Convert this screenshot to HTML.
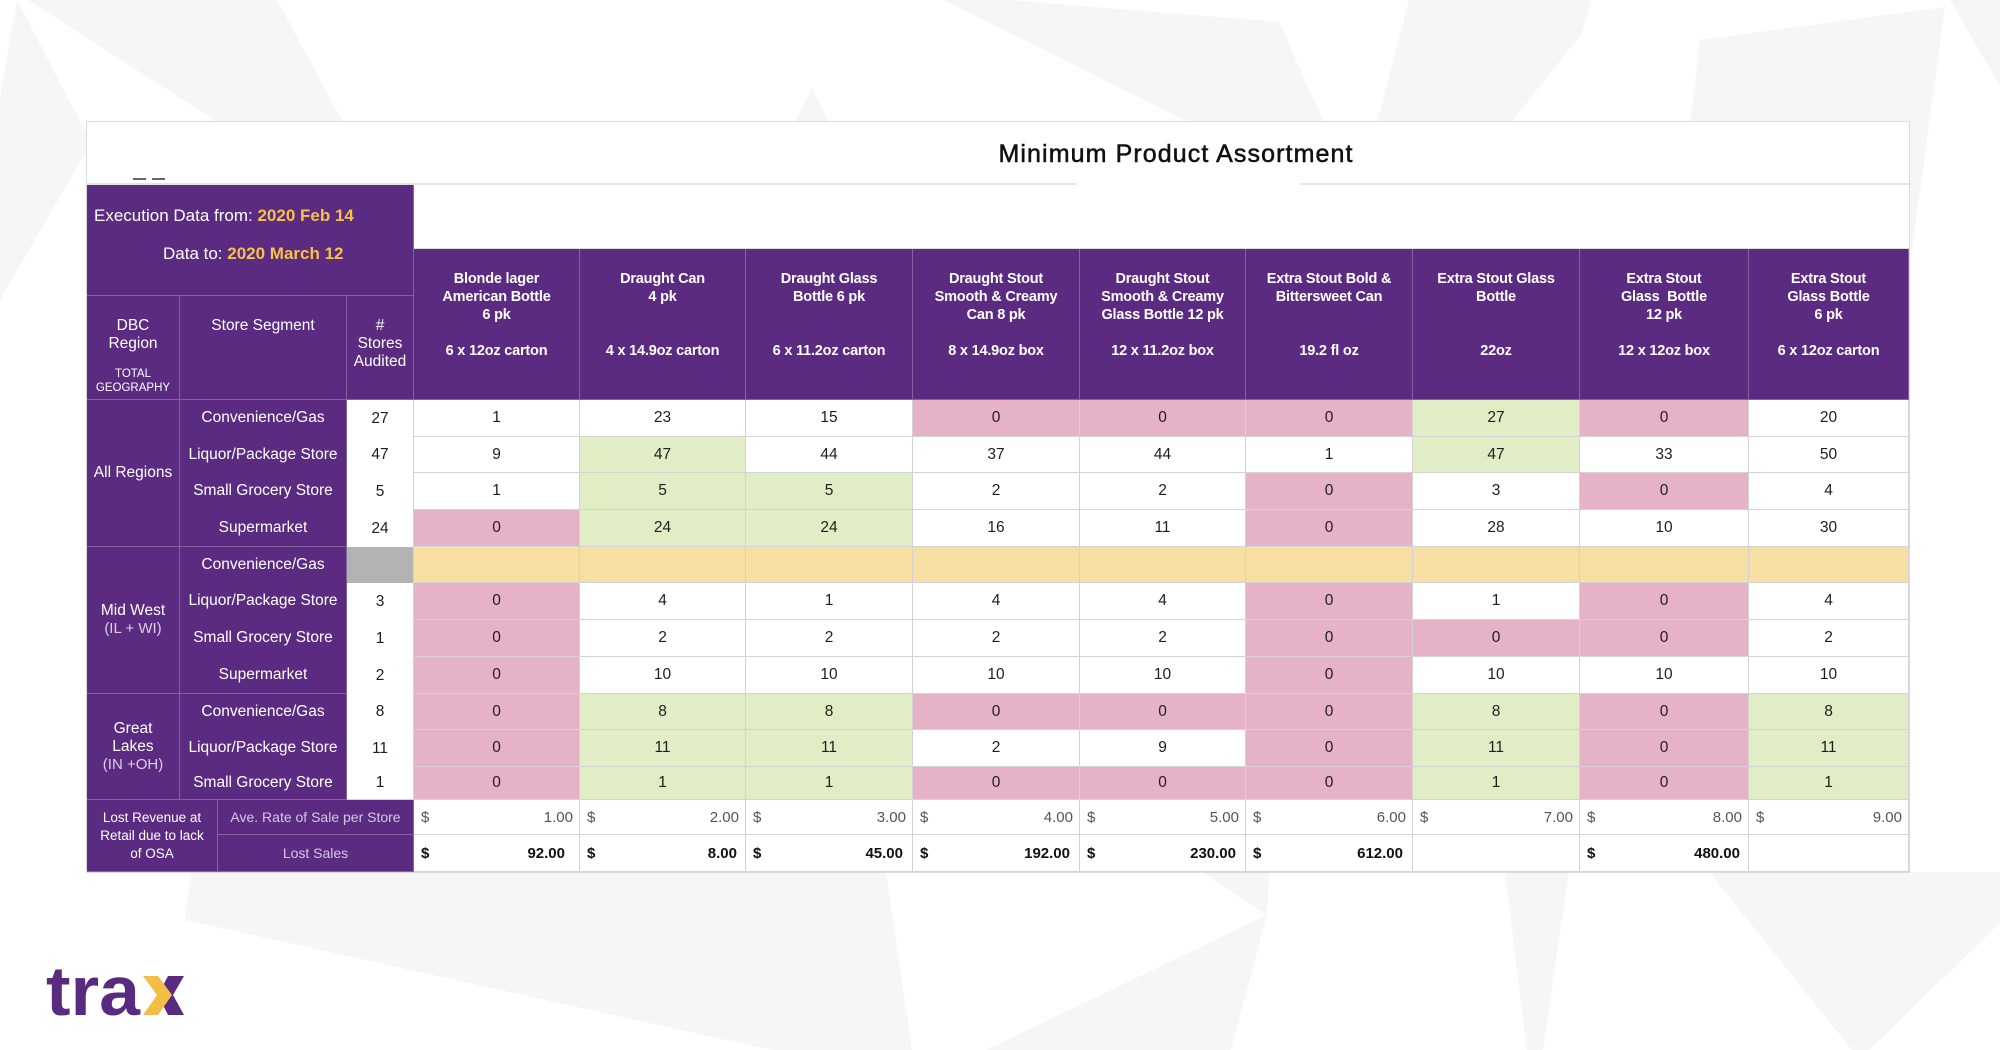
<!DOCTYPE html>
<html>
<head>
<meta charset="utf-8">
<style>
html,body{margin:0;padding:0;}
body{width:2000px;height:1050px;position:relative;overflow:hidden;background:#fff;font-family:"Liberation Sans",sans-serif;}
#bg{position:absolute;left:0;top:0;}
#tbl{position:absolute;left:87px;top:122px;width:1822px;height:750px;display:grid;
grid-template-columns:93px 38px 129px 67px 166px 166px 167px 167px 166px 167px 167px 169px 160px;
grid-template-rows:63px 64px 47px 104px 37px 36px 37px 37px 36px 37px 37px 37px 36px 37px 33px 35px 37px;
box-shadow:0 0 0 1px #dcdcdc, 0 0 3px rgba(0,0,0,0.06);background:#fff;}
#tbl>div{box-sizing:border-box;}
.p{background:#5a2b81;color:#fff;border-right:1px solid #8264a2;border-bottom:1px solid #8264a2;}
.c{background:#fff;border-right:1px solid #d3d3d3;border-bottom:1px solid #d3d3d3;display:flex;align-items:center;justify-content:center;font-size:15.5px;color:#1e1e1e;}
.k{background:#e6b2c8;}
.g{background:#e1edc5;}
.y{background:#f7dea2;}
.gr{background:#b3b3b3;}
.st{border-bottom:none;}
.seg{grid-column:span 2;display:flex;align-items:center;justify-content:center;font-size:15.5px;border-bottom-color:#5a2b81;}
.seg.last{border-bottom-color:#8264a2;}
.reg{grid-column:1;display:flex;align-items:center;justify-content:center;text-align:center;font-size:15.5px;line-height:18px;}
.reg .l{color:#dcd0e8;font-size:15px;}
.h{grid-row:span 2;position:relative;font-weight:bold;font-size:14.5px;letter-spacing:-0.2px;}
.h .t{position:absolute;top:21px;left:0;right:0;text-align:center;line-height:18px;}
.h .s{position:absolute;top:93px;left:0;right:0;text-align:center;line-height:18px;}
.sh{position:relative;font-size:15.5px;}
.sh .t{position:absolute;top:21px;left:0;right:0;text-align:center;line-height:18px;}
.d{display:flex;align-items:center;justify-content:space-between;padding:0 9px 0 7px;font-size:15px;}
.d.a{color:#555;padding-right:6px;}
.d.b{font-weight:bold;color:#111;}
</style>
</head>
<body>
<svg id="bg" width="2000" height="1050" viewBox="0 0 2000 1050">
<g fill="#f6f6f6">
<polygon points="17,0 0,97 0,300 87,150 87,135"/>
<polygon points="28,0 277,0 347,130 230,130"/>
<polygon points="812,87 791,130 832,130"/>
<polygon points="944,0 1008,0 1279,22 1327,130 1205,130"/>
<polygon points="1409,0 1591,0 1582,33 1505,130 1375,130"/>
<polygon points="1700,40 1945,7 1912,250 1690,122"/>
<polygon points="1950,0 2000,0 2000,86"/>
<polygon points="191,872 886,872 912,1050 772,1050 185,920"/>
<polygon points="1202,872 1269,872 1267,915"/>
<polygon points="1267,915 986,1050 1231,1050"/>
<polygon points="1505,872 1569,872 1543,1050 1527,1050"/>
<polygon points="1709,872 2000,872 2000,923 1869,1050 1852,1050"/>
</g>
<text x="46" y="1015" font-family="Liberation Sans, sans-serif" font-weight="bold" font-size="70" fill="#582a80" textLength="94" lengthAdjust="spacingAndGlyphs">tra</text>
<polygon points="168,976 184,976 173,995 184,1015 168,1015 158,995" fill="#582a80"/>
<polygon points="143,976 158,976 172,995 158,1015 143,1015 157,995" fill="#f3be45"/>
</svg>

<div id="tbl">
  <div style="grid-row:1;grid-column:1/-1;position:relative;background:#fff;">
    <div style="position:absolute;left:889px;width:400px;top:17px;line-height:30px;text-align:center;font-size:25px;letter-spacing:1.1px;color:#111;-webkit-text-stroke:0.55px #111;">Minimum Product Assortment</div>
    <div style="position:absolute;left:0;top:61px;width:989px;height:2px;background:#e3e3e3;"></div>
    <div style="position:absolute;left:1214px;top:61px;width:608px;height:2px;background:#e3e3e3;"></div>
    <div style="position:absolute;left:46px;top:56px;width:13px;height:1.5px;background:#666;"></div>
    <div style="position:absolute;left:65px;top:56px;width:13px;height:1.5px;background:#666;"></div>
  </div>
  <div class="p" style="grid-row:2/4;grid-column:1/5;position:relative;font-size:17px;">
    <div style="position:absolute;left:7px;top:21px;line-height:20px;white-space:nowrap;">Execution Data from: <b style="color:#f6c244;">2020 Feb 14</b></div>
    <div style="position:absolute;left:76px;top:59px;line-height:20px;white-space:nowrap;">Data to: <b style="color:#f6c244;">2020 March 12</b></div>
  </div>
  <div style="grid-row:2;grid-column:5/-1;background:#fff;border-bottom:1px solid #dcdcdc;"></div>

  <div class="p reg" style="grid-row:5/9;">All Regions</div>
  <div class="p reg" style="grid-row:9/13;"><div>Mid West<br><span class="l">(IL + WI)</span></div></div>
  <div class="p reg" style="grid-row:13/16;"><div>Great<br>Lakes<br><span class="l">(IN +OH)</span></div></div>
  <div class="p reg" style="grid-row:16/18;grid-column:1/3;font-size:13.5px;">Lost Revenue at<br>Retail due to lack<br>of OSA</div>

  <div class="p h"><div class="t">Blonde lager<br>American Bottle<br>6 pk</div><div class="s">6 x 12oz carton</div></div>
  <div class="p h"><div class="t">Draught Can<br>4 pk</div><div class="s">4 x 14.9oz carton</div></div>
  <div class="p h"><div class="t">Draught Glass<br>Bottle 6 pk</div><div class="s">6 x 11.2oz carton</div></div>
  <div class="p h"><div class="t">Draught Stout<br>Smooth &amp; Creamy<br>Can 8 pk</div><div class="s">8 x 14.9oz box</div></div>
  <div class="p h"><div class="t">Draught Stout<br>Smooth &amp; Creamy<br>Glass Bottle 12 pk</div><div class="s">12 x 11.2oz box</div></div>
  <div class="p h"><div class="t">Extra Stout Bold &amp;<br>Bittersweet Can</div><div class="s">19.2 fl oz</div></div>
  <div class="p h"><div class="t">Extra Stout Glass<br>Bottle</div><div class="s">22oz</div></div>
  <div class="p h"><div class="t">Extra Stout<br>Glass&nbsp; Bottle<br>12 pk</div><div class="s">12 x 12oz box</div></div>
  <div class="p h"><div class="t">Extra Stout<br>Glass Bottle<br>6 pk</div><div class="s">6 x 12oz carton</div></div>

  <div class="p sh"><div class="t">DBC<br>Region</div><div style="position:absolute;top:71px;left:0;right:0;text-align:center;font-size:11.5px;line-height:14px;">TOTAL<br>GEOGRAPHY</div></div>
  <div class="p sh" style="grid-column:span 2;"><div class="t">Store Segment</div></div>
  <div class="p sh"><div class="t">#<br>Stores<br>Audited</div></div>

  <!-- All Regions -->
  <div class="p seg">Convenience/Gas</div><div class="c st">27</div>
  <div class="c">1</div><div class="c">23</div><div class="c">15</div><div class="c k">0</div><div class="c k">0</div><div class="c k">0</div><div class="c g">27</div><div class="c k">0</div><div class="c">20</div>

  <div class="p seg">Liquor/Package Store</div><div class="c st">47</div>
  <div class="c">9</div><div class="c g">47</div><div class="c">44</div><div class="c">37</div><div class="c">44</div><div class="c">1</div><div class="c g">47</div><div class="c">33</div><div class="c">50</div>

  <div class="p seg">Small Grocery Store</div><div class="c st">5</div>
  <div class="c">1</div><div class="c g">5</div><div class="c g">5</div><div class="c">2</div><div class="c">2</div><div class="c k">0</div><div class="c">3</div><div class="c k">0</div><div class="c">4</div>

  <div class="p seg last">Supermarket</div><div class="c st">24</div>
  <div class="c k">0</div><div class="c g">24</div><div class="c g">24</div><div class="c">16</div><div class="c">11</div><div class="c k">0</div><div class="c">28</div><div class="c">10</div><div class="c">30</div>

  <!-- Mid West -->
  <div class="p seg">Convenience/Gas</div><div class="c gr" style="border-bottom:none;"></div>
  <div class="c y"></div><div class="c y"></div><div class="c y"></div><div class="c y"></div><div class="c y"></div><div class="c y"></div><div class="c y"></div><div class="c y"></div><div class="c y"></div>

  <div class="p seg">Liquor/Package Store</div><div class="c st">3</div>
  <div class="c k">0</div><div class="c">4</div><div class="c">1</div><div class="c">4</div><div class="c">4</div><div class="c k">0</div><div class="c">1</div><div class="c k">0</div><div class="c">4</div>

  <div class="p seg">Small Grocery Store</div><div class="c st">1</div>
  <div class="c k">0</div><div class="c">2</div><div class="c">2</div><div class="c">2</div><div class="c">2</div><div class="c k">0</div><div class="c k">0</div><div class="c k">0</div><div class="c">2</div>

  <div class="p seg last">Supermarket</div><div class="c st">2</div>
  <div class="c k">0</div><div class="c">10</div><div class="c">10</div><div class="c">10</div><div class="c">10</div><div class="c k">0</div><div class="c">10</div><div class="c">10</div><div class="c">10</div>

  <!-- Great Lakes -->
  <div class="p seg">Convenience/Gas</div><div class="c st">8</div>
  <div class="c k">0</div><div class="c g">8</div><div class="c g">8</div><div class="c k">0</div><div class="c k">0</div><div class="c k">0</div><div class="c g">8</div><div class="c k">0</div><div class="c g">8</div>

  <div class="p seg">Liquor/Package Store</div><div class="c st">11</div>
  <div class="c k">0</div><div class="c g">11</div><div class="c g">11</div><div class="c">2</div><div class="c">9</div><div class="c k">0</div><div class="c g">11</div><div class="c k">0</div><div class="c g">11</div>

  <div class="p seg last">Small Grocery Store</div><div class="c st" style="border-bottom:1px solid #d3d3d3;">1</div>
  <div class="c k">0</div><div class="c g">1</div><div class="c g">1</div><div class="c k">0</div><div class="c k">0</div><div class="c k">0</div><div class="c g">1</div><div class="c k">0</div><div class="c g">1</div>

  <!-- Lost revenue -->
  <div class="p seg" style="font-size:14px;color:#d6c9e3;border-bottom-color:#8264a2;">Ave. Rate of Sale per Store</div>
  <div class="c d a"><span>$</span><span>1.00</span></div>
  <div class="c d a"><span>$</span><span>2.00</span></div>
  <div class="c d a"><span>$</span><span>3.00</span></div>
  <div class="c d a"><span>$</span><span>4.00</span></div>
  <div class="c d a"><span>$</span><span>5.00</span></div>
  <div class="c d a"><span>$</span><span>6.00</span></div>
  <div class="c d a"><span>$</span><span>7.00</span></div>
  <div class="c d a"><span>$</span><span>8.00</span></div>
  <div class="c d a"><span>$</span><span>9.00</span></div>

  <div class="p seg" style="font-size:14px;color:#d6c9e3;border-bottom-color:#8264a2;">Lost Sales</div>
  <div class="c d b" style="padding-right:14px;"><span>$</span><span>92.00</span></div>
  <div class="c d b" style="padding-right:8px;"><span>$</span><span>8.00</span></div>
  <div class="c d b"><span>$</span><span>45.00</span></div>
  <div class="c d b"><span>$</span><span>192.00</span></div>
  <div class="c d b"><span>$</span><span>230.00</span></div>
  <div class="c d b"><span>$</span><span>612.00</span></div>
  <div class="c d b"></div>
  <div class="c d b" style="padding-right:8px;"><span>$</span><span>480.00</span></div>
  <div class="c d b"></div>
</div>
</body>
</html>
